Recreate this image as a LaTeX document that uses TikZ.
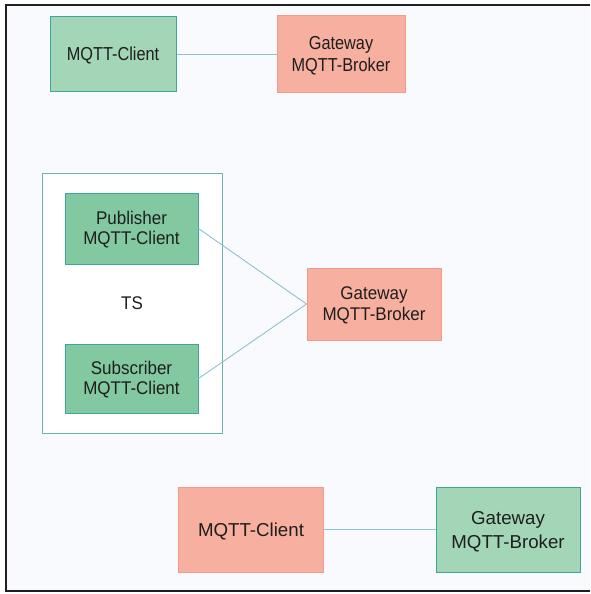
\documentclass[tikz,border=0pt]{standalone}
\usepackage{fontspec}
\setmainfont{Liberation Sans}
\definecolor{pagebg}{HTML}{F9FAFE}
\definecolor{greenfill}{HTML}{A3D6B6}
\definecolor{greendark}{HTML}{82C8A0}
\definecolor{greenline}{HTML}{3FA69A}
\definecolor{redfill}{HTML}{F7AF9F}
\definecolor{redline}{HTML}{F29A88}
\definecolor{linkcol}{HTML}{8CC3D0}
\definecolor{groupline}{HTML}{6DB3B0}
\definecolor{textcol}{HTML}{1E1E1E}
% text block, stretched vertically by the given factor and set slightly low
\newcommand{\vtext}[2]{\raisebox{-2pt}[\height][\depth]{\scalebox{1}[#1]{\begin{tabular}{@{}c@{}}#2\end{tabular}}}}
\tikzset{
  box/.style={draw, line width=1pt, align=center, inner sep=0pt, text=textcol},
  client/.style={box, fill=greenfill, draw=greenline},
  clientdark/.style={box, fill=greendark, draw=greenline},
  broker/.style={box, fill=redfill, draw=redline},
  group/.style={draw=groupline, line width=1pt, fill=white, text=textcol, inner sep=0pt},
  link/.style={draw=linkcol, line width=0.9pt},
  frameline/.style={draw=black!88, line width=2.6pt},
  toprow/.style={font=\fontsize{16.3}{19.7}\selectfont},
  midrow/.style={font=\fontsize{17}{18.8}\selectfont},
  lowrow/.style={font=\fontsize{18.7}{24.5}\selectfont}
}
\begin{document}
\begin{tikzpicture}[x=1pt,y=-1pt]
  \useasboundingbox (0,0) rectangle (590,594);
  % page background and open frame
  \fill[pagebg] (6,5) rectangle (590,591);
  \draw[frameline] (590,5) -- (6,5) -- (6,591) -- (590,591);

  % first setup: client and gateway broker
  \node[client, toprow, minimum width=126pt, minimum height=74pt] (c1) at (113,54) {\vtext{1.15}{MQTT-Client}};
  \node[broker, toprow, minimum width=128pt, minimum height=76pt] (g1) at (341,54) {\vtext{1.15}{Gateway\\MQTT-Broker}};
  \draw[link] (c1.east) -- (g1.west);

  % second setup: test system with publisher and subscriber
  \node[group, midrow, minimum width=180pt, minimum height=260pt] (ts) at (132,303) {\vtext{1.08}{TS}};
  \node[clientdark, midrow, minimum width=133pt, minimum height=71pt] (pub) at (131.5,228.5) {\vtext{1.08}{Publisher\\MQTT-Client}};
  \node[clientdark, midrow, minimum width=133pt, minimum height=69pt] (sub) at (131.5,378.5) {\vtext{1.08}{Subscriber\\MQTT-Client}};
  \node[broker, midrow, minimum width=134pt, minimum height=72pt] (g2) at (374,304) {\vtext{1.08}{Gateway\\MQTT-Broker}};
  \draw[link] (pub.east) -- (g2.west);
  \draw[link] (sub.east) -- (g2.west);

  % third setup: roles swapped
  \node[broker, lowrow, minimum width=145pt, minimum height=85pt] (c3) at (251,529.5) {\vtext{1}{MQTT-Client}};
  \node[client, lowrow, minimum width=144pt, minimum height=85pt] (g3) at (508,529.5) {\vtext{1}{Gateway\\MQTT-Broker}};
  \draw[link] (c3.east) -- (g3.west);
\end{tikzpicture}
\end{document}
